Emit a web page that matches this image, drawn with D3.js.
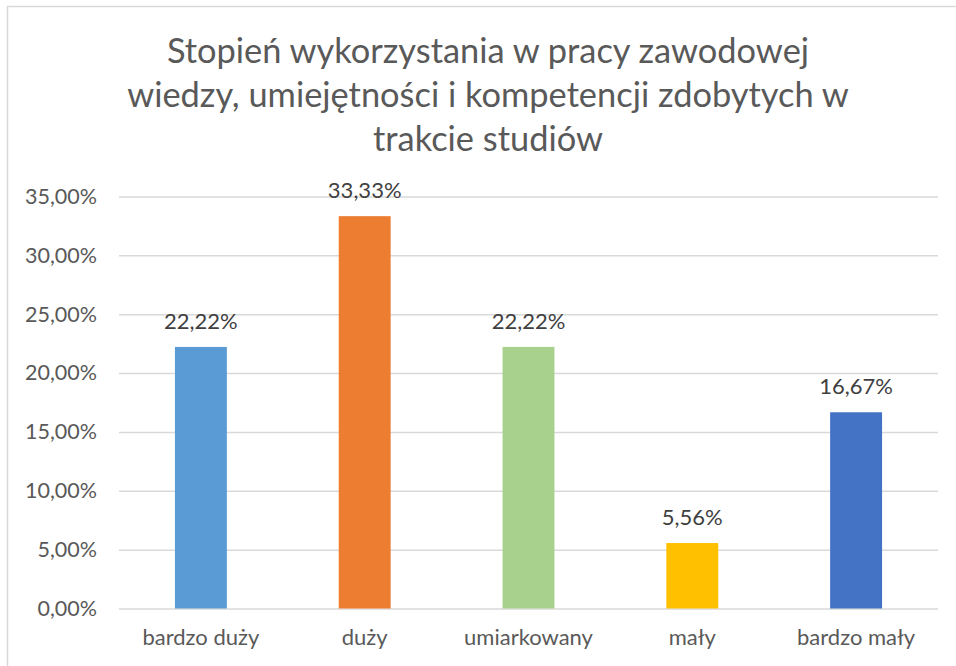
<!DOCTYPE html>
<html>
<head>
<meta charset="utf-8">
<script src="https://cdn.jsdelivr.net/npm/d3@7"></script>
<style>
  body { margin: 0; background: #fff; }
  svg { display: block; font-family: Lato, "Open Sans", sans-serif; }
</style>
</head>
<body>
<svg id="chart" width="956" height="666"></svg>
<script>
// data
var categories = ["bardzo duży", "duży", "umiarkowany", "mały", "bardzo mały"];
var values = [22.22, 33.33, 22.22, 5.56, 16.67];
var barColors = ["#5B9BD5", "#ED7D31", "#A9D18E", "#FFC000", "#4472C4"];
var yTicks = [0, 5, 10, 15, 20, 25, 30, 35];
var titleLines = ["Stopień wykorzystania w pracy zawodowej", "wiedzy, umiejętności i kompetencji zdobytych w", "trakcie studiów"];

var svg = d3.select("#chart");
var pl = d3.formatLocale({ decimal: ",", thousands: " ", grouping: [3], currency: ["", ""] });
var fmt = pl.format(".2f");

// chart frame (right/bottom run off the picture)
svg.append("rect")
    .attr("x", 7.5).attr("y", 6.5)
    .attr("width", 960).attr("height", 670)
    .attr("fill", "none")
    .attr("stroke", "#d9d9d9")
    .attr("stroke-width", 1.5);

var x = d3.scaleBand()
    .domain(categories)
    .range([119, 938])
    .paddingInner(0.683)
    .paddingOuter(0.683 / 2);

var y = d3.scaleLinear()
    .domain([0, 35])
    .range([608.5, 196.5]);

// title
svg.append("g").selectAll("text")
    .data(titleLines)
    .join("text")
    .attr("x", 488)
    .attr("y", function (d, i) { return 63 + i * 44; })
    .attr("text-anchor", "middle")
    .attr("fill", "#595959")
    .style("font-size", "34.4px")
    .text(function (d) { return d; });

// y axis with gridlines
var yAxis = svg.append("g")
    .attr("transform", "translate(119,0)")
    .call(d3.axisLeft(y).tickValues(yTicks).tickSize(-(938 - 119)).tickPadding(22)
        .tickFormat(function (d) { return fmt(d) + "%"; }));
yAxis.select(".domain").remove();
yAxis.selectAll(".tick line").attr("stroke", "#d9d9d9").attr("stroke-width", 1.5);
yAxis.selectAll(".tick text")
    .attr("fill", "#595959")
    .style("font-size", "21.5px")
    .style("font-family", "Lato, sans-serif");

// x axis labels
var xAxis = svg.append("g")
    .attr("transform", "translate(0,608.5)")
    .call(d3.axisBottom(x).tickSize(0).tickPadding(21));
xAxis.select(".domain").remove();
xAxis.selectAll(".tick text")
    .attr("fill", "#595959")
    .style("font-size", "22px")
    .style("font-family", "Lato, sans-serif");

// bars
svg.append("g").selectAll("rect")
    .data(values)
    .join("rect")
    .attr("x", function (d, i) { return x(categories[i]); })
    .attr("y", function (d) { return y(d); })
    .attr("width", x.bandwidth())
    .attr("height", function (d) { return y(0) - y(d); })
    .attr("fill", function (d, i) { return barColors[i]; });

// data labels
svg.append("g").selectAll("text")
    .data(values)
    .join("text")
    .attr("x", function (d, i) { return x(categories[i]) + x.bandwidth() / 2; })
    .attr("y", function (d) { return y(d) - 18; })
    .attr("text-anchor", "middle")
    .attr("fill", "#404040")
    .style("font-size", "22px")
    .text(function (d) { return fmt(d) + "%"; });
</script>
</body>
</html>
